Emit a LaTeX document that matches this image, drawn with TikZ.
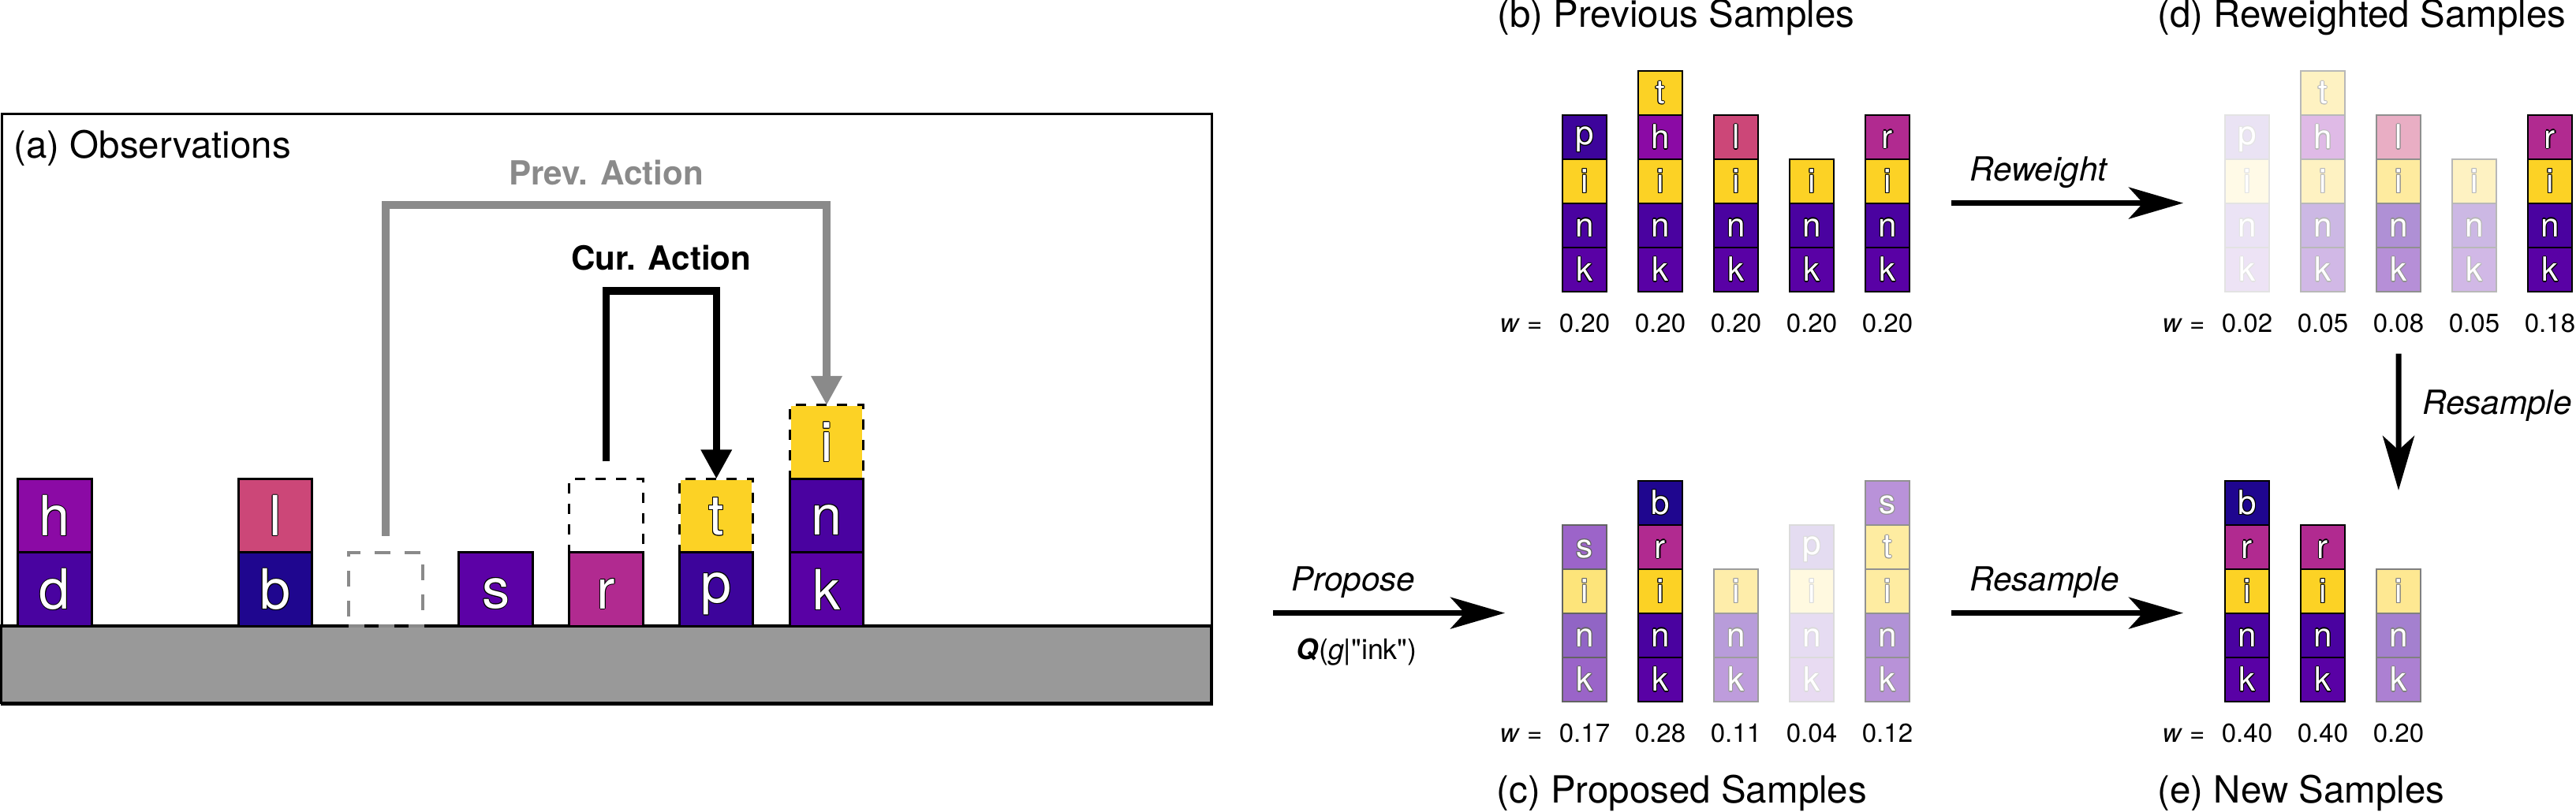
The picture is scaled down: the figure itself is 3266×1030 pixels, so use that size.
\documentclass[tikz,border=0pt]{standalone}
\usepackage{fontspec}
\setmainfont{TeX Gyre Heros}
\newfontfamily\qfont{TeX Gyre Heros}[Ligatures=TeXOff]
\usetikzlibrary{matrix,positioning,arrows.meta}

\definecolor{plB}{HTML}{1F068F}
\definecolor{plP}{HTML}{3D049B}
\definecolor{plD}{HTML}{4903A0}
\definecolor{plN}{HTML}{4A02A0}
\definecolor{plK}{HTML}{5901A5}
\definecolor{plS}{HTML}{5C01A6}
\definecolor{plH}{HTML}{8B0AA5}
\definecolor{plR}{HTML}{B12A90}
\definecolor{plL}{HTML}{CC4778}
\definecolor{plI}{HTML}{FCD225}
\definecolor{prevgray}{HTML}{8A8A8A}
\definecolor{ground}{HTML}{999999}
\colorlet{ltredge}{black}

% white letter with a thin dark rim
\newcommand\ltr[1]{{\color{ltredge}%
  \rlap{\kern.3pt#1}\rlap{\kern-.3pt#1}%
  \rlap{\raise.3pt\hbox{#1}}\rlap{\lower.3pt\hbox{#1}}%
  \rlap{\kern.21pt\raise.21pt\hbox{#1}}\rlap{\kern-.21pt\raise.21pt\hbox{#1}}%
  \rlap{\kern.21pt\lower.21pt\hbox{#1}}\rlap{\kern-.21pt\lower.21pt\hbox{#1}}}#1}

\begin{document}
\begin{tikzpicture}[x=0.1mm, y=-0.1mm,
    title/.style={font=\fontsize{13.5}{16}\selectfont, inner sep=0pt},
    lbl/.style={font=\fontsize{12}{14}\selectfont\itshape, inner sep=0pt},
    actlbl/.style={font=\fontsize{12}{14}\selectfont\bfseries, inner sep=0pt},
    wt/.style={text=black, inner sep=0pt, font=\fontsize{9.4}{11}\selectfont},
    tile/.style 2 args={fill=#1!#2!white, draw=black!#2!white, /utils/exec={\colorlet{ltredge}{black!#2!white}}},
    blk/.style={tile={#1}{100}},
    dashbox/.style={draw=white, postaction={draw=black, dash pattern=on 1.3mm off 1.3mm}},
    graybox/.style={draw=prevgray, line width=0.4mm, dash pattern=on 2mm off 1.8mm},
    bigarrow/.style={line width=0.7mm, -{Stealth[length=6.9mm, width=4mm, inset=1.8mm]}},
    act/.style={line width=0.95mm, -{Triangle[length=3.7mm, width=3.7mm]}},
    samplegrid/.style={matrix of nodes, nodes in empty cells, ampersand replacement=\&,
      inner sep=0pt, column sep={9.6mm,between origins}, row sep={5.6mm,between origins},
      nodes={anchor=center, minimum size=5.6mm, inner sep=0pt, outer sep=0pt, line width=0.2mm, text=white,
        font=\fontsize{12}{12}\selectfont, execute at begin node={\vphantom{0}}}},
    obsgrid/.style={matrix of nodes, nodes in empty cells, ampersand replacement=\&,
      inner sep=0pt, column sep={13.98mm,between origins}, row sep={9.35mm,between origins},
      nodes={anchor=center, minimum size=9.35mm, inner sep=0pt, outer sep=0pt, line width=0.3mm, text=white,
        font=\fontsize{20}{20}\selectfont, execute at begin node={\vphantom{0}}}}]
\useasboundingbox (0,0) rectangle (3266,1030);

% (a) observations
\node[draw, line width=0.3mm, minimum width=153.4mm, minimum height=74.9mm, inner sep=0pt, anchor=north west] (obsframe) at (1.5,143) {};
\draw[fill=ground, line width=0.3mm] (1.5,794) rectangle (1535.5,892);
\draw[line width=0.45mm] (1.5,794) -- (1535.5,794);
\node[title, anchor=base west] (atitle) at (17,201) {(a) Observations};

\matrix[obsgrid] (obs) at (558.75,654.5) {
  {} \& {} \& {} \& {} \& {} \& {} \& {} \& |[blk=plI, dashbox]| \ltr{i} \\
  |[blk=plH]| \ltr{h} \& {} \& |[blk=plL]| \ltr{l} \& {} \& {} \& |[dashbox]| {} \& |[blk=plI, dashbox]| \ltr{t} \& |[blk=plN]| \ltr{n} \\
  |[blk=plD]| \ltr{d} \& {} \& |[blk=plB]| \ltr{b} \& |[graybox]| {} \& |[blk=plS]| \ltr{s} \& |[blk=plR]| \ltr{r} \& |[blk=plP]| \ltr{p} \& |[blk=plK]| \ltr{k} \\
};

\coordinate (prevtop) at (0,260);
\coordinate (curtop) at (0,369);
\draw[act, draw=prevgray, shorten <=2.1mm] (obs-3-4.north) -- (obs-3-4.north |- prevtop)
  -| node[actlbl, text=prevgray, pos=0.25, above=2mm] {Prev. Action} (obs-1-8.north);
\draw[act, shorten <=2.2mm] (obs-2-6.north) -- (obs-2-6.north |- curtop)
  -| node[actlbl, pos=0.25, above=2.1mm] {Cur. Action} (obs-2-7.north);

% (b) previous samples
\node[title, anchor=base west] (btitle) at (1898,35) {(b) Previous Samples};
\matrix[samplegrid] (b) at (2201,229.6) {
  {} \& |[blk=plI]| \ltr{t} \& {} \& {} \& {} \\
  |[blk=plP]| \ltr{p} \& |[blk=plH]| \ltr{h} \& |[blk=plL]| \ltr{l} \& {} \& |[blk=plR]| \ltr{r} \\
  |[blk=plI]| \ltr{i} \& |[blk=plI]| \ltr{i} \& |[blk=plI]| \ltr{i} \& |[blk=plI]| \ltr{i} \& |[blk=plI]| \ltr{i} \\
  |[blk=plN]| \ltr{n} \& |[blk=plN]| \ltr{n} \& |[blk=plN]| \ltr{n} \& |[blk=plN]| \ltr{n} \& |[blk=plN]| \ltr{n} \\
  |[blk=plK]| \ltr{k} \& |[blk=plK]| \ltr{k} \& |[blk=plK]| \ltr{k} \& |[blk=plK]| \ltr{k} \& |[blk=plK]| \ltr{k} \\
};
\foreach \w [count=\i] in {0.20,0.20,0.20,0.20,0.20}
  \node[wt] (bw\i) at ([yshift=-6.84mm]b-5-\i) {\w};
\node[wt, anchor=base east] (bw) at ([xshift=-2mm]bw1.base west) {\textit{w} =};

% (d) reweighted samples
\node[title, anchor=base west] (dtitle) at (2735,35) {(d) Reweighted Samples};
\matrix[samplegrid] (d) at (3041,229.6) {
  {} \& |[tile={plI}{28}]| \ltr{t} \& {} \& {} \& {} \\
  |[tile={plP}{11}]| \ltr{p} \& |[tile={plH}{28}]| \ltr{h} \& |[tile={plL}{44}]| \ltr{l} \& {} \& |[blk=plR]| \ltr{r} \\
  |[tile={plI}{11}]| \ltr{i} \& |[tile={plI}{28}]| \ltr{i} \& |[tile={plI}{44}]| \ltr{i} \& |[tile={plI}{28}]| \ltr{i} \& |[blk=plI]| \ltr{i} \\
  |[tile={plN}{11}]| \ltr{n} \& |[tile={plN}{28}]| \ltr{n} \& |[tile={plN}{44}]| \ltr{n} \& |[tile={plN}{28}]| \ltr{n} \& |[blk=plN]| \ltr{n} \\
  |[tile={plK}{11}]| \ltr{k} \& |[tile={plK}{28}]| \ltr{k} \& |[tile={plK}{44}]| \ltr{k} \& |[tile={plK}{28}]| \ltr{k} \& |[blk=plK]| \ltr{k} \\
};
\foreach \w [count=\i] in {0.02,0.05,0.08,0.05,0.18}
  \node[wt] (dw\i) at ([yshift=-6.84mm]d-5-\i) {\w};
\node[wt, anchor=base east] (dw) at ([xshift=-2mm]dw1.base west) {\textit{w} =};

% (c) proposed samples
\node[title, anchor=base west] (ctitle) at (1897,1018) {(c) Proposed Samples};
\matrix[samplegrid] (c) at (2201,749.6) {
  {} \& |[blk=plB]| \ltr{b} \& {} \& {} \& |[tile={plS}{43}]| \ltr{s} \\
  |[tile={plS}{61}]| \ltr{s} \& |[blk=plR]| \ltr{r} \& {} \& |[tile={plP}{14}]| \ltr{p} \& |[tile={plI}{43}]| \ltr{t} \\
  |[tile={plI}{61}]| \ltr{i} \& |[blk=plI]| \ltr{i} \& |[tile={plI}{39}]| \ltr{i} \& |[tile={plI}{14}]| \ltr{i} \& |[tile={plI}{43}]| \ltr{i} \\
  |[tile={plN}{61}]| \ltr{n} \& |[blk=plN]| \ltr{n} \& |[tile={plN}{39}]| \ltr{n} \& |[tile={plN}{14}]| \ltr{n} \& |[tile={plN}{43}]| \ltr{n} \\
  |[tile={plK}{61}]| \ltr{k} \& |[blk=plK]| \ltr{k} \& |[tile={plK}{39}]| \ltr{k} \& |[tile={plK}{14}]| \ltr{k} \& |[tile={plK}{43}]| \ltr{k} \\
};
\foreach \w [count=\i] in {0.17,0.28,0.11,0.04,0.12}
  \node[wt] (cw\i) at ([yshift=-6.84mm]c-5-\i) {\w};
\node[wt, anchor=base east] (cw) at ([xshift=-2mm]cw1.base west) {\textit{w} =};

% (e) new samples
\node[title, anchor=base west] (etitle) at (2735,1018) {(e) New Samples};
\matrix[samplegrid] (e) at (2945,749.6) {
  |[blk=plB]| \ltr{b} \& {} \& {} \\
  |[blk=plR]| \ltr{r} \& |[blk=plR]| \ltr{r} \& {} \\
  |[blk=plI]| \ltr{i} \& |[blk=plI]| \ltr{i} \& |[tile={plI}{50}]| \ltr{i} \\
  |[blk=plN]| \ltr{n} \& |[blk=plN]| \ltr{n} \& |[tile={plN}{50}]| \ltr{n} \\
  |[blk=plK]| \ltr{k} \& |[blk=plK]| \ltr{k} \& |[tile={plK}{50}]| \ltr{k} \\
};
\foreach \w [count=\i] in {0.40,0.40,0.20}
  \node[wt] (ew\i) at ([yshift=-6.84mm]e-5-\i) {\w};
\node[wt, anchor=base east] (ew) at ([xshift=-2mm]ew1.base west) {\textit{w} =};

% steps
\draw[bigarrow, shorten <=7.6mm, shorten >=7.3mm] (obsframe.east |- c-4-1.north) -- (c-4-1.north west)
  node[lbl, pos=0.216, anchor=base west, yshift=2.8mm] {Propose}
  node[inner sep=0pt, font=\fontsize{10.2}{12}\selectfont\qfont, pos=0.23, anchor=base west, yshift=-5.9mm] {\textbf{\textit{Q}}(\textit{g}|"ink")};
\draw[bigarrow, shorten <=5.3mm, shorten >=5.3mm] (b-4-5.north east) -- (d-4-1.north west)
  node[lbl, pos=0.1825, anchor=base west, yshift=2.8mm] {Reweight};
\draw[bigarrow, shorten <=5.3mm, shorten >=5.3mm] (c-4-5.north east) -- (e-4-1.north west)
  node[lbl, pos=0.1825, anchor=base west, yshift=2.8mm] {Resample};
\draw[bigarrow, shorten <=2.6mm, shorten >=1.56mm] (dw3.south) -- (e-1-3.center)
  node[lbl, pos=0.48, anchor=base west, xshift=2.7mm] {Resample};
\end{tikzpicture}
\end{document}
